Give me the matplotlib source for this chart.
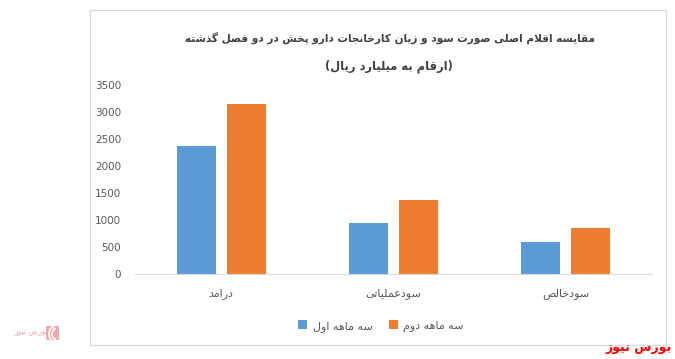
import matplotlib
matplotlib.use("Agg")
import matplotlib.pyplot as plt
from matplotlib.patches import Rectangle, Arc
import numpy as np

# ---------------- data ----------------
categories = ["درامد", "سودعملیاتی", "سودخالص"]
series_names = ["سه ماهه اول", "سه ماهه دوم"]
q1_values = [2370, 950, 600]
q2_values = [3150, 1370, 850]
y_ticks = [0, 500, 1000, 1500, 2000, 2500, 3000, 3500]
title_line1 = "مقایسه اقلام اصلی صورت سود و زیان کارخانجات دارو پخش در دو فصل گذشته"
title_line2 = "ارقام به میلیارد ریال"
watermark = "بورس نیوز"

# ------------- simple Persian shaping -------------
FORMS = {
    '\u0627': ('\uFE8D', '\uFE8E', None, None),
    '\u0622': ('\uFE81', '\uFE82', None, None),
    '\u0628': ('\uFE8F', '\uFE90', '\uFE91', '\uFE92'),
    '\u062A': ('\uFE95', '\uFE96', '\uFE97', '\uFE98'),
    '\u062B': ('\uFE99', '\uFE9A', '\uFE9B', '\uFE9C'),
    '\u062C': ('\uFE9D', '\uFE9E', '\uFE9F', '\uFEA0'),
    '\u062D': ('\uFEA1', '\uFEA2', '\uFEA3', '\uFEA4'),
    '\u062E': ('\uFEA5', '\uFEA6', '\uFEA7', '\uFEA8'),
    '\u062F': ('\uFEA9', '\uFEAA', None, None),
    '\u0630': ('\uFEAB', '\uFEAC', None, None),
    '\u0631': ('\uFEAD', '\uFEAE', None, None),
    '\u0632': ('\uFEAF', '\uFEB0', None, None),
    '\u0698': ('\uFB8A', '\uFB8B', None, None),
    '\u0633': ('\uFEB1', '\uFEB2', '\uFEB3', '\uFEB4'),
    '\u0634': ('\uFEB5', '\uFEB6', '\uFEB7', '\uFEB8'),
    '\u0635': ('\uFEB9', '\uFEBA', '\uFEBB', '\uFEBC'),
    '\u0636': ('\uFEBD', '\uFEBE', '\uFEBF', '\uFEC0'),
    '\u0637': ('\uFEC1', '\uFEC2', '\uFEC3', '\uFEC4'),
    '\u0638': ('\uFEC5', '\uFEC6', '\uFEC7', '\uFEC8'),
    '\u0639': ('\uFEC9', '\uFECA', '\uFECB', '\uFECC'),
    '\u063A': ('\uFECD', '\uFECE', '\uFECF', '\uFED0'),
    '\u0641': ('\uFED1', '\uFED2', '\uFED3', '\uFED4'),
    '\u0642': ('\uFED5', '\uFED6', '\uFED7', '\uFED8'),
    '\u0644': ('\uFEDD', '\uFEDE', '\uFEDF', '\uFEE0'),
    '\u0645': ('\uFEE1', '\uFEE2', '\uFEE3', '\uFEE4'),
    '\u0646': ('\uFEE5', '\uFEE6', '\uFEE7', '\uFEE8'),
    '\u0647': ('\uFEE9', '\uFEEA', '\uFEEB', '\uFEEC'),
    '\u0648': ('\uFEED', '\uFEEE', None, None),
    '\u06CC': ('\uFBFC', '\uFBFD', '\uFBFE', '\uFBFF'),
    '\u06A9': ('\uFB8E', '\uFB8F', '\uFB90', '\uFB91'),
    '\u06AF': ('\uFB92', '\uFB93', '\uFB94', '\uFB95'),
    '\u067E': ('\uFB56', '\uFB57', '\uFB58', '\uFB59'),
    '\u0686': ('\uFB7A', '\uFB7B', '\uFB7C', '\uFB7D'),
}


def joins_left(c):
    return c in FORMS and FORMS[c][2] is not None


def shape(text):
    chars = list(text)
    out = []
    n = len(chars)
    i = 0
    while i < n:
        c = chars[i]
        if c not in FORMS:
            out.append(c)
            i += 1
            continue
        prev = chars[i - 1] if i > 0 else None
        connect_prev = prev is not None and joins_left(prev)
        if c == '\u0644' and i + 1 < n and chars[i + 1] == '\u0627':
            out.append('\uFEFC' if connect_prev else '\uFEFB')
            i += 2
            continue
        nxt = chars[i + 1] if i + 1 < n else None
        connect_next = nxt is not None and nxt in FORMS and joins_left(c)
        iso, fin, ini, med = FORMS[c]
        if connect_prev and connect_next:
            out.append(med)
        elif connect_prev:
            out.append(fin)
        elif connect_next:
            out.append(ini)
        else:
            out.append(iso)
        i += 1
    return ''.join(reversed(out))


FONT = ['DejaVu Sans']
plt.rcParams['font.family'] = FONT

W, H = 675, 359
fig = plt.figure(figsize=(W / 100, H / 100), dpi=100)

# outer frame
fig.patches.append(Rectangle((90 / W, 1 - 345 / H), (666 - 90) / W, (345 - 10) / H,
                             transform=fig.transFigure, fill=False,
                             edgecolor='#d9d9d9', linewidth=0.9))

ax = fig.add_axes([135 / W, 1 - 274 / H, (652 - 135) / W, (274 - 85) / H])

x = np.arange(len(categories))
bw = 0.226
off = 0.145
b1 = ax.bar(x - off, q1_values, bw, color='#5B9BD5', label=shape(series_names[0]))
b2 = ax.bar(x + off, q2_values, bw, color='#ED7D31', label=shape(series_names[1]))

ax.set_xlim(-0.5, len(categories) - 0.5)
ax.set_ylim(0, 3500)
ax.set_yticks(y_ticks)
ax.set_yticklabels([str(v) for v in y_ticks])
ax.set_xticks(x)
ax.set_xticklabels([shape(c) for c in categories])
for s in ['top', 'right', 'left']:
    ax.spines[s].set_visible(False)
ax.spines['bottom'].set_color('#d9d9d9')
ax.tick_params(axis='both', length=0, colors='#595959', labelsize=7.5)
ax.tick_params(axis='y', pad=10)
ax.tick_params(axis='x', pad=10, labelsize=8)

# titles
fig.text(390 / W, 1 - 38 / H, shape(title_line1), ha='center', va='center',
         fontsize=7.6, fontweight='bold', color='#404040')
fig.text(389 / W, 1 - 66 / H, '(' + shape(title_line2) + ')', ha='center', va='center',
         fontsize=8.3, fontweight='bold', color='#404040')

# legend
leg = fig.legend(handles=[b1, b2], loc='center', bbox_to_anchor=(381 / W, 1 - 326 / H),
                 ncol=2, frameon=False, fontsize=8, handlelength=0.8, handleheight=0.8,
                 handletextpad=0.5, columnspacing=1.5)
for t in leg.get_texts():
    t.set_color('#595959')

# watermark
fig.text(672 / W, 1 - 347 / H, shape(watermark), ha='right', va='center',
         fontsize=9, fontweight='bold', color='#ff0000')

# faint logo bottom-left
fig.patches.append(Rectangle((46 / W, 1 - 340 / H), 13 / W, 14 / H,
                             transform=fig.transFigure, facecolor='#f2a7ad',
                             edgecolor='none'))
for r in (6, 9):
    fig.patches.append(Arc((58 / W, 1 - 334 / H), r * 2 / W, r * 2 / H,
                           theta1=100, theta2=260, transform=fig.transFigure,
                           color='white', linewidth=1.2))
fig.text(31 / W, 1 - 332 / H, shape("بورس نیوز"), ha='center', va='center',
         fontsize=5.5, color='#f2a7ad')

fig.savefig('out.png', dpi=100)
